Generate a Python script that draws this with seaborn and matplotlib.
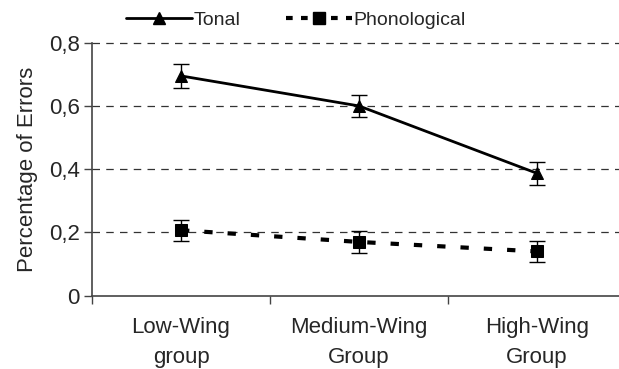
import numpy as np
import pandas as pd
import matplotlib
matplotlib.use("Agg")
import matplotlib.pyplot as plt
import seaborn as sns
from matplotlib.lines import Line2D

# data
groups = ["Low-Wing\ngroup", "Medium-Wing\nGroup", "High-Wing\nGroup"]
tonal = [0.695, 0.600, 0.387]
tonal_err = [0.038, 0.036, 0.037]
phono = [0.207, 0.170, 0.140]
phono_err = [0.033, 0.036, 0.034]
yticks = [0, 0.2, 0.4, 0.6, 0.8]
ytick_labels = ["0", "0,2", "0,4", "0,6", "0,8"]

sns.set_style("white")
plt.rcParams['font.family'] = ['Liberation Sans', 'DejaVu Sans']

df = pd.DataFrame({
    "x": list(range(len(groups))) * 2,
    "value": tonal + phono,
    "series": ["Tonal"] * 3 + ["Phonological"] * 3,
})

fig = plt.figure(figsize=(6.19, 3.69), dpi=100)
ax = fig.add_axes([92 / 619, 73.3 / 369, 534 / 619, 253 / 369])

# gridlines first
for yv in yticks[1:]:
    ax.axhline(yv, color="#333333", lw=0.9, ls=(0, (6, 5)), zorder=0, clip_on=False)

sns.lineplot(data=df[df.series == "Tonal"], x="x", y="value", ax=ax,
             color="black", lw=2.0, marker="^", markersize=9,
             markeredgecolor="black", legend=False)
sns.lineplot(data=df[df.series == "Phonological"], x="x", y="value", ax=ax,
             color="black", lw=3.0, marker="s", markersize=8,
             markeredgecolor="black", legend=False)
ax.lines[-1].set_dashes((2.0, 3.6))

xs = np.arange(len(groups))
ax.errorbar(xs, tonal, yerr=tonal_err, fmt="none", ecolor="black",
            elinewidth=1.0, capsize=5.5, capthick=1.0)
ax.errorbar(xs, phono, yerr=phono_err, fmt="none", ecolor="black",
            elinewidth=1.0, capsize=5.5, capthick=1.0)

ax.set_xlim(-0.5, 2.5)
ax.set_ylim(0, 0.8)
ax.set_yticks(yticks)
ax.set_yticklabels(ytick_labels, fontsize=16)
ax.set_xticks(xs)
ax.set_xticklabels(groups, fontsize=16, linespacing=1.6)
ax.set_xticks([-0.5, 0.5, 1.5, 2.5], minor=True)
ax.tick_params(axis="x", which="major", length=0, pad=15)
ax.tick_params(axis="x", which="minor", length=6, width=1, color="#444444",
               direction="out", bottom=True)
ax.tick_params(axis="y", length=6, width=1, color="#444444",
               direction="out", left=True, pad=3)
ax.set_xlabel("")
ax.set_ylabel("Percentage of Errors", fontsize=16, labelpad=8)

for s in ["top", "right"]:
    ax.spines[s].set_visible(False)
for s in ["left", "bottom"]:
    ax.spines[s].set_color("#444444")
    ax.spines[s].set_linewidth(1.2)

handles = [
    Line2D([], [], color="black", lw=2.0, marker="^", markersize=9),
    Line2D([], [], color="black", lw=3.0, marker="s", markersize=8,
           dashes=(1.6, 2.0)),
]
fig.legend(handles, ["Tonal", "Phonological"], loc="center",
           bbox_to_anchor=(296 / 619, 1 - 20 / 369), ncol=2, frameon=False,
           fontsize=14, handlelength=3.4, handletextpad=0.1,
           columnspacing=2.3)

fig.savefig("out.png", dpi=100)
